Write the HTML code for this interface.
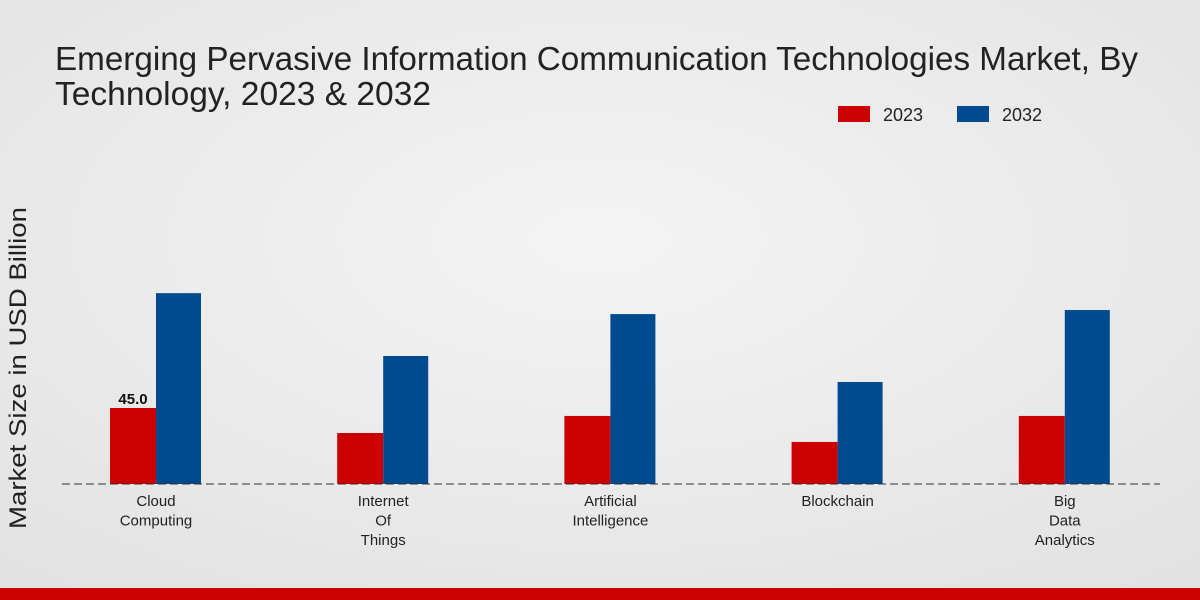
<!DOCTYPE html>
<html><head><meta charset="utf-8"><style>
body{margin:0;width:1200px;height:600px;overflow:hidden;font-family:"Liberation Sans","DejaVu Sans",sans-serif}
svg{display:block}
</style></head><body>
<svg width="1200" height="600" xmlns="http://www.w3.org/2000/svg">
<defs><radialGradient id="bg" cx="50%" cy="40%" r="75%"><stop offset="0" stop-color="#f4f4f4"/><stop offset="1" stop-color="#e2e2e2"/></radialGradient></defs>
<rect width="1200" height="600" fill="url(#bg)"/>
<text x="55" y="70" font-size="33" fill="#222" textLength="1083" lengthAdjust="spacingAndGlyphs">Emerging Pervasive Information Communication Technologies Market, By</text>
<text x="55" y="105" font-size="33" fill="#222" textLength="376" lengthAdjust="spacingAndGlyphs">Technology, 2023 &amp; 2032</text>
<g>
<rect x="838" y="106" width="32" height="16" fill="#cc0000"/>
<text x="883" y="121" font-size="18" fill="#222">2023</text>
<rect x="957" y="106" width="32" height="16" fill="#004a8f"/>
<text x="1002" y="121" font-size="18" fill="#222">2032</text>
</g>
<text transform="translate(26,368) rotate(-90)" font-size="24" fill="#222" text-anchor="middle" textLength="322" lengthAdjust="spacingAndGlyphs">Market Size in USD Billion</text>
<g id="plot"></g>
<line x1="62" y1="484" x2="1160" y2="484" stroke="#333" stroke-dasharray="8,4"/>
<rect x="0" y="588" width="1200" height="12" fill="#cc0000"/>
</svg>
<script>
const categories=[["Cloud","Computing"],["Internet","Of","Things"],["Artificial","Intelligence"],["Blockchain"],["Big","Data","Analytics"]];
const values2023=[45.0,30.2,40.3,24.9,40.3];
const values2032=[113,75.8,100.6,60.4,103];
const labels2023=["45.0","","","",""];
const NS="http://www.w3.org/2000/svg";
const g=document.getElementById("plot");
const base=484, scale=76/45;
const xc=i=>156+i*227.2;
const y=v=>base-v*scale;
function mk(t,a){const e=document.createElementNS(NS,t);for(const k in a)e.setAttribute(k,a[k]);g.appendChild(e);return e;}
categories.forEach((c,i)=>{
  const r=mk("rect",{x:xc(i)-46,y:y(values2023[i]),width:46,height:values2023[i]*scale,fill:"#cc0000"});
  
  
  const b=mk("rect",{x:xc(i),y:y(values2032[i]),width:45,height:values2032[i]*scale,fill:"#004a8f"});
  
  
  if(labels2023[i]){
    const t=mk("text",{x:xc(i)-23,y:y(values2023[i])-4,"font-size":15,"font-weight":"bold","text-anchor":"middle",fill:"#111"});
    t.textContent=labels2023[i];
    
    
  }
  c.forEach((w,j)=>{
    const t=mk("text",{x:xc(i),y:506+j*19.5,"font-size":15,"text-anchor":"middle",fill:"#222"});
    t.textContent=w;
    
    
  });
});
</script>
</body></html>
